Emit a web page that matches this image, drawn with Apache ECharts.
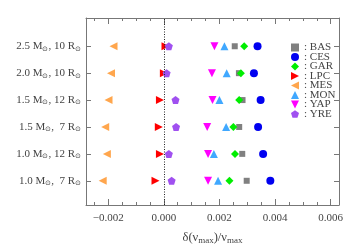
<!DOCTYPE html>
<html><head><meta charset="utf-8">
<script src="https://cdn.jsdelivr.net/npm/echarts@6/dist/echarts.min.js"></script>
<style>html,body{margin:0;padding:0;background:#fff}#c{width:350px;height:250px}</style>
</head><body><div id="c"></div>
<script>
// rows from bottom (index 0) to top (index 5)
var rowLabels = ['1.0 M{s|⊙},  7 R{s|⊙}', '1.0 M{s|⊙}, 12 R{s|⊙}', '1.5 M{s|⊙},  7 R{s|⊙}', '1.5 M{s|⊙}, 12 R{s|⊙}', '2.0 M{s|⊙}, 10 R{s|⊙}', '2.5 M{s|⊙}, 10 R{s|⊙}'];
var xTicks = [-0.002, 0.000, 0.002, 0.004, 0.006];
var xMinor = [-0.0025,-0.0015,-0.001,-0.0005,0.0005,0.001,0.0015,0.0025,0.003,0.0035,0.0045,0.005,0.0055,0.0065];
var names = ['BAS','CES','GAR','LPC','MES','MON','YAP','YRE'];
var BAS = [0.00298, 0.00282, 0.00271, 0.00283, 0.00270, 0.00255];
var CES = [0.00383, 0.00357, 0.00339, 0.00348, 0.00324, 0.00337];
var GAR = [0.00236, 0.00256, 0.00250, 0.00271, 0.00277, 0.00289];
var LPC = [-0.00030, -0.00014, -0.00018, -0.00014, 0.00000, 0.00006];
var MES = [-0.00220, -0.00205, -0.00211, -0.00199, -0.00190, -0.00181];
var MON = [0.00195, 0.00180, 0.00224, 0.00200, 0.00226, 0.00218];
var YAP = [0.00159, 0.00159, 0.00156, 0.00175, 0.00173, 0.00182];
var YRE = [0.00028, 0.00018, 0.00044, 0.00042, 0.00010, 0.00018];
var values = {BAS:BAS,CES:CES,GAR:GAR,LPC:LPC,MES:MES,MON:MON,YAP:YAP,YRE:YRE};

var styles = {
  BAS:{color:'#808080', symbol:'rect', size:6},
  CES:{color:'#0000f0', symbol:'circle', size:8},
  GAR:{color:'#00ee00', symbol:'diamond', size:8},
  LPC:{color:'#ff0000', symbol:'path://M0,0L10,5L0,10Z', size:8},
  MES:{color:'#ffa64d', symbol:'path://M10,0L0,5L10,10Z', size:8},
  MON:{color:'#40a8ff', symbol:'triangle', size:8},
  YAP:{color:'#ff00ff', symbol:'path://M0,0L10,0L5,10Z', size:8},
  YRE:{color:'#a050f0', symbol:'path://M5,0L10,3.6L8.1,9.5L1.9,9.5L0,3.6Z', size:8}
};
var fontF = 'Liberation Serif';
var txt = '#444';
var axCol = '#777';
var xmin = -0.0028, xmax = 0.0063, ymin = -0.9, ymax = 6.05;
var yVals = [0,1,2,3,4,5];

var series = names.map(function(n){
  return {
    name:n, type:'scatter', xAxisIndex:0, yAxisIndex:0,
    symbol:styles[n].symbol, symbolSize:styles[n].size,
    itemStyle:{color:styles[n].color, opacity:1},
    data: values[n].map(function(v,i){return [v,i];}),
    z: 3
  };
});
series.unshift({
  type:'line', xAxisIndex:0, yAxisIndex:0, data:[], silent:true,
  markLine:{silent:true, symbol:['none','none'], label:{show:false},
    lineStyle:{color:'#222', type:[1,1.5], width:1},
    data:[[{coord:[0,ymin]},{coord:[0,ymax]}]]}
});

function xAx(pos, minor, labels){
  return {
    type:'value', position:pos, min:xmin, max:xmax, offset:0,
    axisLine:{show:!minor, onZero:false, lineStyle:{color:axCol, width:1}},
    splitLine:{show:false},
    axisTick:{show:true, inside:true, length: minor?3:6, lineStyle:{color:axCol},
      customValues: minor ? xMinor : xTicks},
    axisLabel:{show:labels, customValues:xTicks, color:txt, fontFamily:fontF, fontSize:11, margin:8,
      formatter:function(v){ var s=v.toFixed(3); return s.replace('-', '\u2212'); }},
    name: labels ? '\u03b4(\u03bd{s|max})/\u03bd{s|max}' : '',
    nameLocation:'middle', nameGap:26,
    nameTextStyle:{color:txt, fontFamily:fontF, fontSize:12.5,
      rich:{s:{fontSize:9, fontFamily:fontF, color:txt, verticalAlign:'bottom', padding:[5,0,0,0]}}}
  };
}
function yAx(pos, labels){
  return {
    type:'value', position:pos, min:ymin, max:ymax, offset:0,
    axisLine:{show:true, onZero:false, lineStyle:{color:axCol, width:1}},
    splitLine:{show:false},
    axisTick:{show:true, inside:true, length:5, lineStyle:{color:axCol}, customValues:yVals},
    axisLabel:{show:labels, customValues:yVals, color:txt, fontFamily:fontF, fontSize:11, margin:5,
      formatter:function(v){ return rowLabels[Math.round(v)] || ''; },
      rich:{s:{fontSize:7, fontFamily:fontF, color:txt, verticalAlign:'bottom', padding:[5,0,0,0]}}}
  };
}

var chart = echarts.init(document.getElementById('c'), null, {renderer:'canvas'});
chart.setOption({
  animation:false,
  backgroundColor:'#fff',
  grid:{left:86, right:11, top:18, bottom:37, containLabel:false},
  xAxis:[xAx('bottom', false, true), xAx('bottom', true, false), xAx('top', false, false), xAx('top', true, false)],
  yAxis:[yAx('left', true), yAx('right', false)],
  legend:{
    orient:'vertical', left:291, top:42, padding:0, itemWidth:8, itemHeight:8, itemGap:-1.5,
    data: names.map(function(n){return {name:n, icon:styles[n].symbol};}),
    formatter:function(n){return ': '+n;},
    textStyle:{color:txt, fontFamily:fontF, fontSize:11},
    selectedMode:false
  },
  series: series
});
</script></body></html>
